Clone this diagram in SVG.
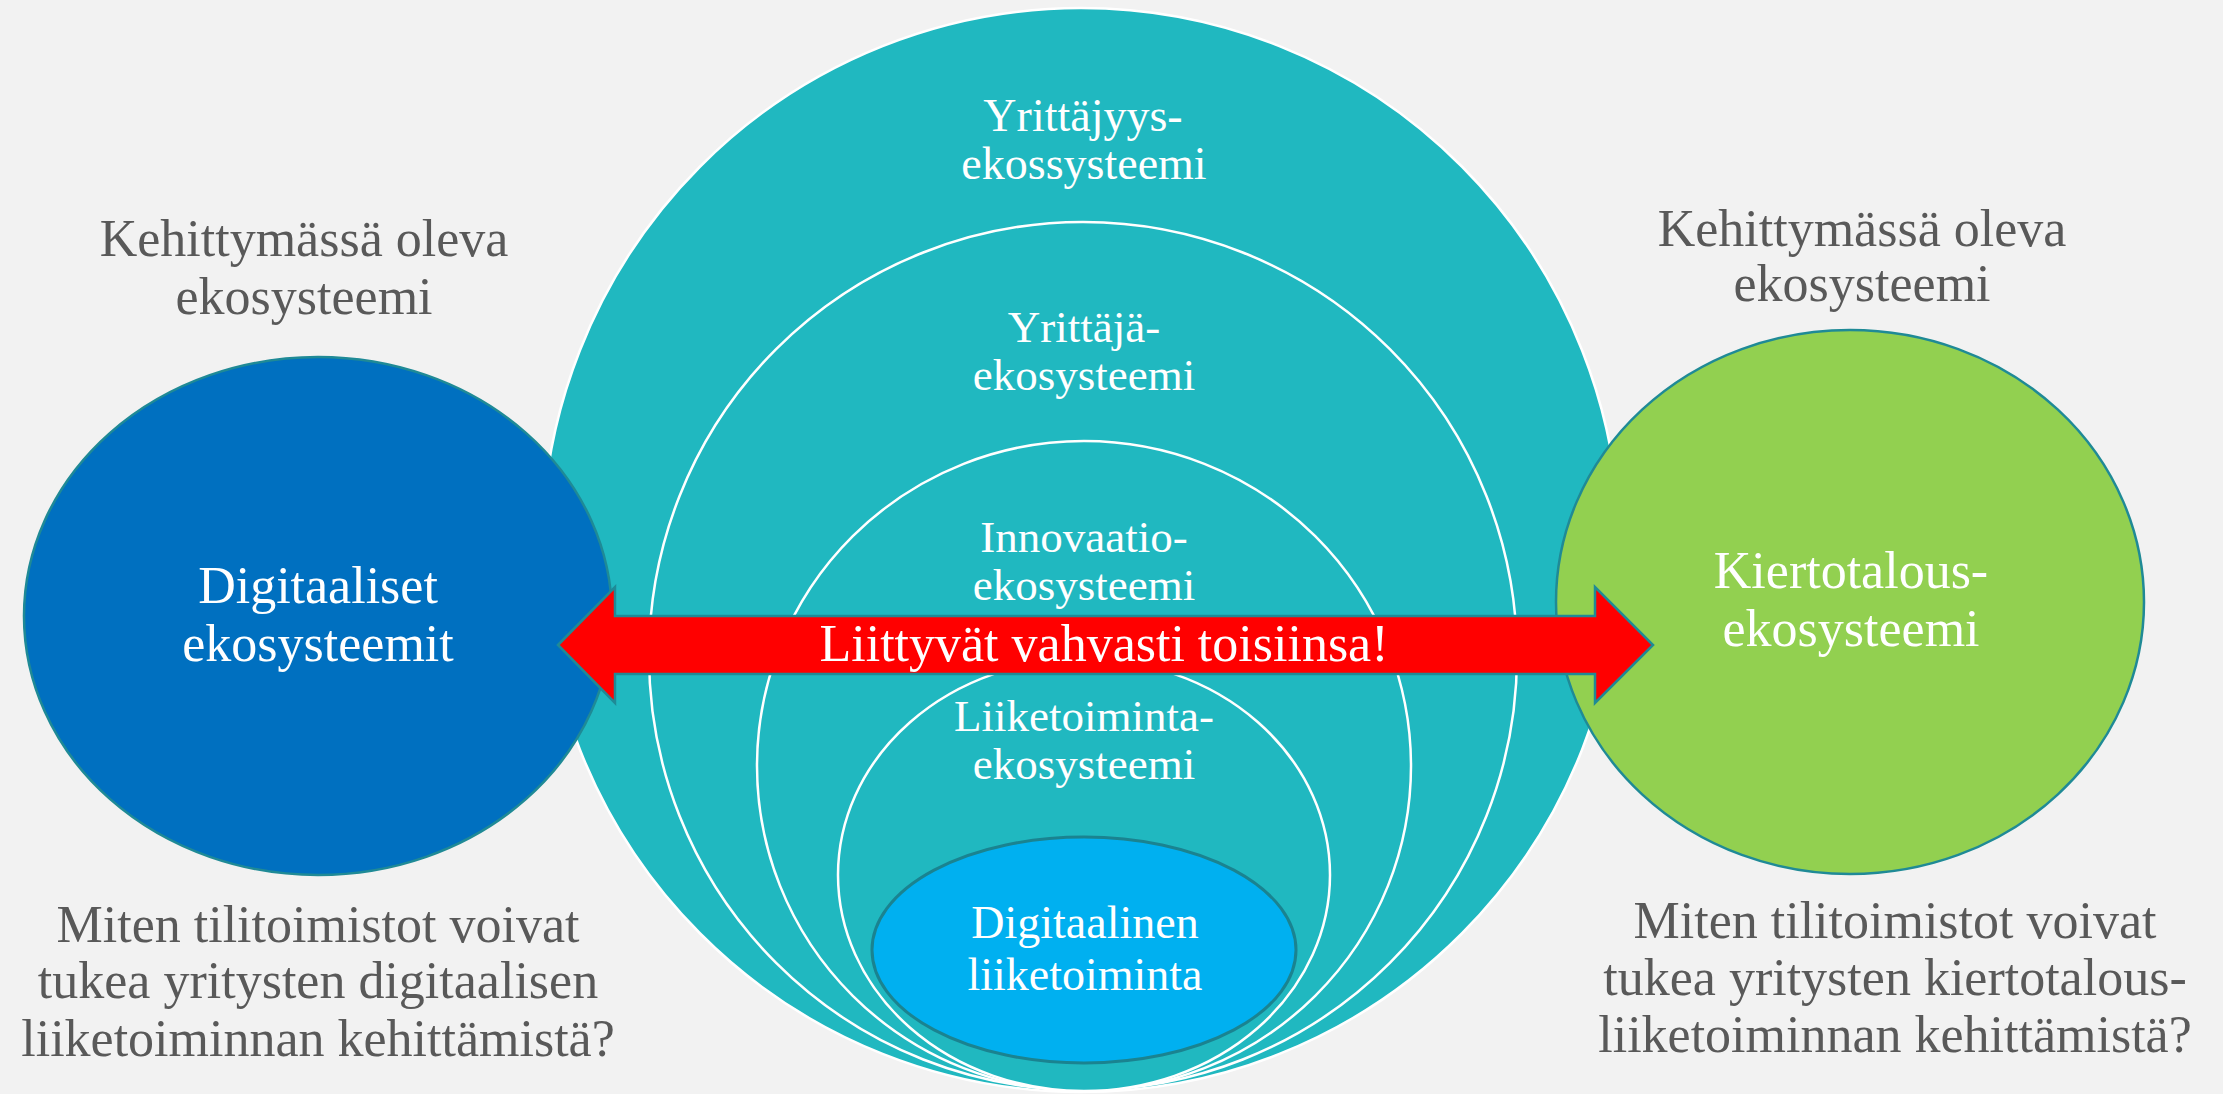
<svg xmlns="http://www.w3.org/2000/svg" width="2223" height="1094" viewBox="0 0 2223 1094">
<style>
.lbl{font-family:"Liberation Serif","Times New Roman",serif;fill:#FFFFFF;text-anchor:middle}
.gray{font-family:"Liberation Serif","Times New Roman",serif;fill:#595959;text-anchor:middle;font-size:52px}
.ring{fill:#20B8C0;stroke:#FFFFFF;stroke-width:2.5}
.side{stroke:#1F8A96;stroke-width:2.5}
</style>
<rect x="0" y="0" width="2223" height="1094" fill="#F2F2F2"/>

<g id="yrittajyys-ekosysteemi">
<ellipse class="ring" cx="1081" cy="550" rx="539" ry="542"/>
<text class="lbl" font-size="46" x="1083" y="131">Yrittäjyys-</text>
<text class="lbl" font-size="46" x="1084" y="179">ekossysteemi</text>
</g>
<g id="yrittaja-ekosysteemi">
<ellipse class="ring" cx="1083" cy="656" rx="434" ry="434"/>
<text class="lbl" font-size="45" x="1084" y="342">Yrittäjä-</text>
<text class="lbl" font-size="45" x="1084" y="390">ekosysteemi</text>
</g>
<g id="innovaatio-ekosysteemi">
<ellipse class="ring" cx="1084" cy="766" rx="327" ry="325"/>
<text class="lbl" font-size="45" x="1084" y="552">Innovaatio-</text>
<text class="lbl" font-size="45" x="1084" y="600">ekosysteemi</text>
</g>
<g id="liiketoiminta-ekosysteemi">
<ellipse class="ring" cx="1084" cy="875" rx="246" ry="216"/>
<text class="lbl" font-size="45" x="1084" y="731">Liiketoiminta-</text>
<text class="lbl" font-size="45" x="1084" y="779">ekosysteemi</text>
</g>
<g id="digitaalinen-liiketoiminta">
<ellipse cx="1084" cy="950" rx="212" ry="113" fill="#00B0F0" stroke="#1A8390" stroke-width="3"/>
<text class="lbl" font-size="46" x="1085" y="938">Digitaalinen</text>
<text class="lbl" font-size="46" x="1085" y="990">liiketoiminta</text>
</g>

<g id="digitaaliset-ekosysteemit">
<ellipse class="side" cx="318" cy="616" rx="294" ry="259" fill="#0070C0"/>
<text class="lbl" font-size="52" x="318" y="603">Digitaaliset</text>
<text class="lbl" font-size="52" x="318" y="661">ekosysteemit</text>
</g>
<g id="kiertotalous-ekosysteemi">
<ellipse class="side" cx="1850" cy="602" rx="294" ry="272" fill="#92D050"/>
<text class="lbl" font-size="52" x="1851" y="588">Kiertotalous-</text>
<text class="lbl" font-size="52" x="1851" y="646">ekosysteemi</text>
</g>

<g id="connectors">
<polygon points="558,645 615,587 615,616 1595,616 1595,587 1653,645 1595,703 1595,674 615,674 615,703" fill="#FF0000" stroke="#1F8A96" stroke-width="2.5" stroke-linejoin="miter"/>
<text class="lbl" font-size="52" x="1104" y="661">Liittyvät vahvasti toisiinsa!</text>
</g>

<g id="note-left-top">
<text class="gray" x="304" y="256">Kehittymässä oleva</text>
<text class="gray" x="304" y="314">ekosysteemi</text>
</g>
<g id="note-right-top">
<text class="gray" x="1862" y="246">Kehittymässä oleva</text>
<text class="gray" x="1862" y="301">ekosysteemi</text>
</g>
<g id="question-left">
<text class="gray" x="318" y="942">Miten tilitoimistot voivat</text>
<text class="gray" x="318" y="998">tukea yritysten digitaalisen</text>
<text class="gray" x="318" y="1056">liiketoiminnan kehittämistä?</text>
</g>
<g id="question-right">
<text class="gray" x="1895" y="938">Miten tilitoimistot voivat</text>
<text class="gray" x="1895" y="995">tukea yritysten kiertotalous-</text>
<text class="gray" x="1895" y="1052">liiketoiminnan kehittämistä?</text>
</g>
</svg>
